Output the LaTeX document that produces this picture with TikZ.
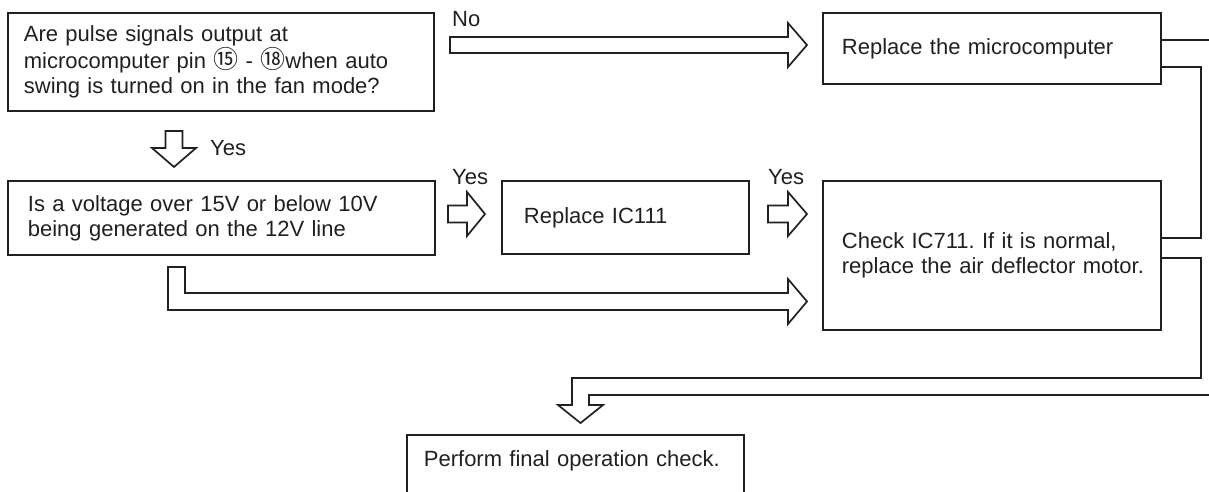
\documentclass[tikz,border=0pt]{standalone}
\usepackage{fontspec}
\setmainfont{Liberation Sans}
\newfontfamily\cjk{Noto Sans CJK SC}
\frenchspacing
\usetikzlibrary{positioning, calc}
\definecolor{ink}{HTML}{231F20}
\tikzset{
    box/.style={rectangle, draw=ink, line width=1.8pt, text=ink, align=left, anchor=north west, font=\fontsize{22}{25}\selectfont},
    hollow/.style={draw=ink, line width=1.7pt, fill=white},
    tag/.style={text=ink, inner sep=0pt, anchor=base west, font=\fontsize{22}{25}\selectfont}
}

\begin{document}
\begin{tikzpicture}[x=1pt, y=-1pt]
    \useasboundingbox (0,0) rectangle (1209,491);
    \clip (0,0) rectangle (1209,491);

    \node (q1) [box, minimum height=98pt, text width=394pt, inner xsep=16pt] at (7,12) {Are pulse signals output at\\microcomputer pin {\cjk\fontsize{25}{25}\selectfont ⑮} - {\cjk\fontsize{25}{25}\selectfont ⑱}when auto\\swing is turned on in the fan mode?};
    \node (q2) [box, minimum height=74pt, text width=387pt, inner xsep=20pt] at (7,180) {Is a voltage over 15V or below 10V\\being generated on the 12V line};
    \node (ic) [box, minimum height=73pt, text width=203pt, inner xsep=22pt] at (501,180) {Replace IC111};
    \node (mcu) [box, minimum height=71pt, text width=300pt, inner xsep=19pt] at (822,12) {Replace the microcomputer};
    \node (chk) [box, minimum height=149pt, text width=300pt, inner xsep=19pt] at (822,180) {\mbox{Check IC711. If it is normal,}\\\mbox{replace the air deflector motor.}};
    \node (fin) [box, text width=303pt, inner xsep=17pt, inner ysep=16pt, text height=16pt, text depth=40pt] at (406,434) {Perform final operation check.};

    % answers
    \node (no) [tag] at (452,26) {No};
    \node (yes1) [tag] at (210,155) {Yes};
    \node (yes2) [tag] at (452,184) {Yes};
    \node (yes3) [tag] at (768,184) {Yes};

    % hollow arrows
    \draw[hollow] (450,37) -- (788,37) -- (788,23) -- (807,45) -- (788,67) -- (788,53) -- (450,53) -- cycle;
    \draw[hollow] (165.5,131) -- (182.5,131) -- (182.5,148) -- (196,148) -- (174,167) -- (152,148) -- (165.5,148) -- cycle;
    \draw[hollow] (448,205.5) -- (467,205.5) -- (467,192) -- (485,214) -- (467,236) -- (467,222.5) -- (448,222.5) -- cycle;
    \draw[hollow] (768,205.5) -- (788,205.5) -- (788,192) -- (807,214) -- (788,236) -- (788,222.5) -- (768,222.5) -- cycle;
    \draw[hollow] (168,267) -- (185,267) -- (185,293) -- (788,293) -- (788,279) -- (807,301.5) -- (788,324) -- (788,310) -- (168,310) -- cycle;

    % band round the right side
    \draw[hollow, fill=none] (mcu.east |- 0,40) -- (1220,40);
    \draw[hollow, fill=none] (mcu.east |- 0,67) -- (1201,67) -- (1201,238) -- (chk.east |- 0,238);
    \draw[hollow, fill=none] (chk.east |- 0,258) -- (1201,258) -- (1201,378) -- (572,378) -- (572,405) -- (558,405) -- (580.5,423) -- (603,405) -- (589,405) -- (589,395) -- (1220,395);
\end{tikzpicture}
\end{document}
